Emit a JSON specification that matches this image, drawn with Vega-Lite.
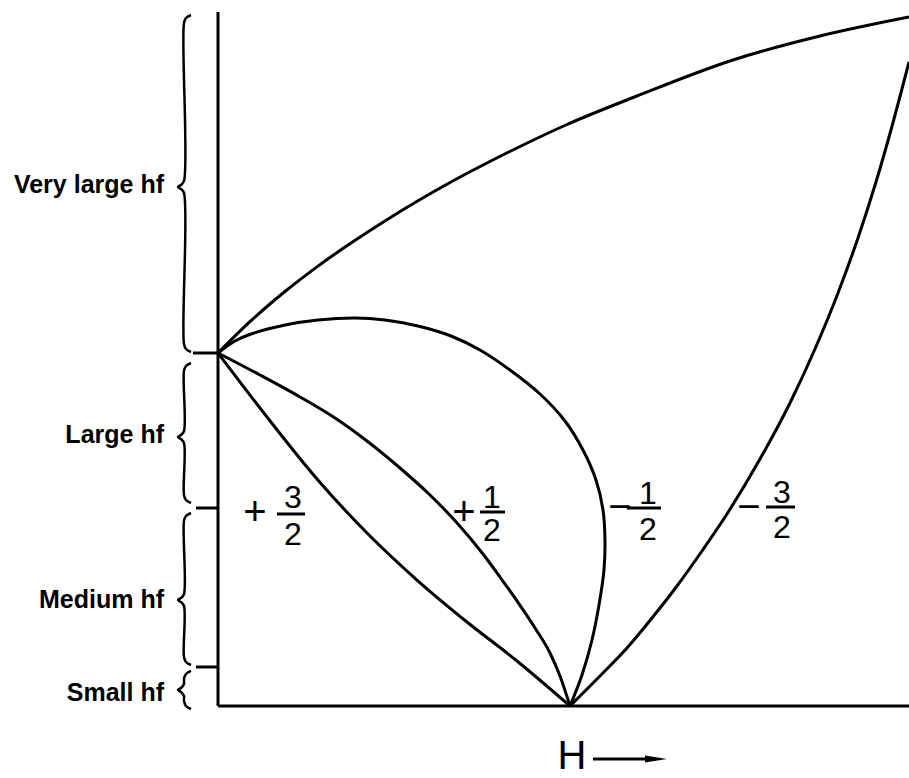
{
  "$schema": "https://vega.github.io/schema/vega-lite/v6.json",
  "width": 909,
  "height": 778,
  "autosize": {"type": "none"},
  "padding": 0,
  "background": "white",
  "config": {"view": {"stroke": null}},
  "datasets": {
    "levels": [
      {"curve": "top", "i": 0, "h": 0, "e": 100},
      {"curve": "top", "i": 1, "h": 9.38, "e": 109.15},
      {"curve": "top", "i": 2, "h": 19.03, "e": 117.42},
      {"curve": "top", "i": 3, "h": 28.41, "e": 124.62},
      {"curve": "top", "i": 4, "h": 37.78, "e": 131.16},
      {"curve": "top", "i": 5, "h": 47.44, "e": 137.42},
      {"curve": "top", "i": 6, "h": 56.82, "e": 143.12},
      {"curve": "top", "i": 7, "h": 66.19, "e": 148.44},
      {"curve": "top", "i": 8, "h": 75.85, "e": 153.54},
      {"curve": "top", "i": 9, "h": 85.23, "e": 158.22},
      {"curve": "top", "i": 10, "h": 99.15, "e": 164.73},
      {"curve": "top", "i": 11, "h": 119.03, "e": 172.8},
      {"curve": "top", "i": 12, "h": 146.31, "e": 183.0},
      {"curve": "top", "i": 13, "h": 171.02, "e": 189.8},
      {"curve": "top", "i": 14, "h": 196.31, "e": 195.18},

      {"curve": "+1/2", "i": 0, "h": 0, "e": 100},
      {"curve": "+1/2", "i": 1, "h": 11.93, "e": 93.77},
      {"curve": "+1/2", "i": 2, "h": 23.3, "e": 87.54},
      {"curve": "+1/2", "i": 3, "h": 33.24, "e": 81.59},
      {"curve": "+1/2", "i": 4, "h": 42.33, "e": 75.07},
      {"curve": "+1/2", "i": 5, "h": 51.7, "e": 67.42},
      {"curve": "+1/2", "i": 6, "h": 60.23, "e": 59.77},
      {"curve": "+1/2", "i": 7, "h": 68.18, "e": 51.56},
      {"curve": "+1/2", "i": 8, "h": 75.28, "e": 43.06},
      {"curve": "+1/2", "i": 9, "h": 80.11, "e": 36.54},
      {"curve": "+1/2", "i": 10, "h": 84.94, "e": 29.75},
      {"curve": "+1/2", "i": 11, "h": 90.06, "e": 22.1},
      {"curve": "+1/2", "i": 12, "h": 94.32, "e": 15.01},
      {"curve": "+1/2", "i": 13, "h": 97.16, "e": 8.5},
      {"curve": "+1/2", "i": 14, "h": 100, "e": 0},

      {"curve": "+3/2", "i": 0, "h": 0, "e": 100},
      {"curve": "+3/2", "i": 1, "h": 13.92, "e": 81.87},
      {"curve": "+3/2", "i": 2, "h": 28.13, "e": 64.31},
      {"curve": "+3/2", "i": 3, "h": 42.33, "e": 49.01},
      {"curve": "+3/2", "i": 4, "h": 56.53, "e": 35.69},
      {"curve": "+3/2", "i": 5, "h": 70.74, "e": 23.8},
      {"curve": "+3/2", "i": 6, "h": 84.94, "e": 12.75},
      {"curve": "+3/2", "i": 7, "h": 100, "e": 0},

      {"curve": "-3/2", "i": 0, "h": 100, "e": 0},
      {"curve": "-3/2", "i": 1, "h": 108.52, "e": 8.5},
      {"curve": "-3/2", "i": 2, "h": 116.19, "e": 16.43},
      {"curve": "-3/2", "i": 3, "h": 123.3, "e": 24.93},
      {"curve": "-3/2", "i": 4, "h": 130.4, "e": 33.99},
      {"curve": "-3/2", "i": 5, "h": 137.5, "e": 43.91},
      {"curve": "-3/2", "i": 6, "h": 144.6, "e": 54.39},
      {"curve": "-3/2", "i": 7, "h": 153.98, "e": 69.97},
      {"curve": "-3/2", "i": 8, "h": 162.5, "e": 85.84},
      {"curve": "-3/2", "i": 9, "h": 169.6, "e": 101.13},
      {"curve": "-3/2", "i": 10, "h": 176.14, "e": 117.0},
      {"curve": "-3/2", "i": 11, "h": 181.82, "e": 132.58},
      {"curve": "-3/2", "i": 12, "h": 186.93, "e": 148.44},
      {"curve": "-3/2", "i": 13, "h": 191.19, "e": 163.17},
      {"curve": "-3/2", "i": 14, "h": 196.31, "e": 182.44}
    ],
    "loop": [
      {"curve": "-1/2", "i": 0, "h": 0, "e": 100},
      {"curve": "-1/2", "i": 1, "h": 4.83, "e": 103.4},
      {"curve": "-1/2", "i": 2, "h": 9.38, "e": 105.38},
      {"curve": "-1/2", "i": 3, "h": 19.03, "e": 107.93},
      {"curve": "-1/2", "i": 4, "h": 28.41, "e": 109.35},
      {"curve": "-1/2", "i": 5, "h": 38.92, "e": 109.92},
      {"curve": "-1/2", "i": 6, "h": 47.44, "e": 109.35},
      {"curve": "-1/2", "i": 7, "h": 56.82, "e": 107.65},
      {"curve": "-1/2", "i": 8, "h": 66.19, "e": 104.82},
      {"curve": "-1/2", "i": 9, "h": 74.43, "e": 100.85},
      {"curve": "-1/2", "i": 10, "h": 82.95, "e": 95.18},
      {"curve": "-1/2", "i": 11, "h": 91.48, "e": 88.39},
      {"curve": "-1/2", "i": 12, "h": 98.58, "e": 80.74},
      {"curve": "-1/2", "i": 13, "h": 103.69, "e": 72.52},
      {"curve": "-1/2", "i": 14, "h": 107.39, "e": 64.02},
      {"curve": "-1/2", "i": 15, "h": 109.38, "e": 55.52},
      {"curve": "-1/2", "i": 16, "h": 109.94, "e": 47.03},
      {"curve": "-1/2", "i": 17, "h": 109.66, "e": 38.53},
      {"curve": "-1/2", "i": 18, "h": 108.24, "e": 28.61},
      {"curve": "-1/2", "i": 19, "h": 106.25, "e": 18.7},
      {"curve": "-1/2", "i": 20, "h": 103.41, "e": 8.78},
      {"curve": "-1/2", "i": 21, "h": 100, "e": 0}
    ],
    "rules": [
      {"part": "energy axis", "h": 0, "e": 0, "h2": 0, "e2": 196.6},
      {"part": "field axis", "h": 0, "e": 0, "h2": 196.31, "e2": 0},
      {"part": "zero-field level", "h": -7.1, "e": 100, "h2": 0, "e2": 100},
      {"part": "large/medium boundary", "h": -6.25, "e": 56.09, "h2": 0, "e2": 56.09},
      {"part": "medium/small boundary", "h": -6.25, "e": 11.05, "h2": 0, "e2": 11.05},
      {"part": "bar +3/2", "h": 16.76, "e": 54.39, "h2": 24.72, "e2": 54.39},
      {"part": "bar +1/2", "h": 74.43, "e": 54.96, "h2": 81.53, "e2": 54.96},
      {"part": "bar -1/2", "h": 116.19, "e": 56.09, "h2": 125.85, "e2": 56.09},
      {"part": "bar -3/2", "h": 155.68, "e": 56.37, "h2": 163.92, "e2": 56.37},
      {"part": "arrow shaft", "h": 106.53, "e": -15.01, "h2": 122.73, "e2": -15.01}
    ],
    "braces": [
      {"brace": "very large", "i": 0, "h": -7.67, "e": 195.75},
      {"brace": "very large", "i": 1, "h": -9.09, "e": 194.9},
      {"brace": "very large", "i": 2, "h": -9.66, "e": 193.48},
      {"brace": "very large", "i": 3, "h": -9.66, "e": 148.73},
      {"brace": "very large", "i": 4, "h": -10.51, "e": 147.59},
      {"brace": "very large", "i": 5, "h": -11.36, "e": 147.03},
      {"brace": "very large", "i": 6, "h": -10.51, "e": 146.46},
      {"brace": "very large", "i": 7, "h": -9.66, "e": 145.33},
      {"brace": "very large", "i": 8, "h": -9.66, "e": 102.55},
      {"brace": "very large", "i": 9, "h": -9.09, "e": 101.13},
      {"brace": "very large", "i": 10, "h": -7.67, "e": 100.28},

      {"brace": "large", "i": 0, "h": -7.67, "e": 97.17},
      {"brace": "large", "i": 1, "h": -9.09, "e": 96.32},
      {"brace": "large", "i": 2, "h": -9.66, "e": 94.9},
      {"brace": "large", "i": 3, "h": -9.66, "e": 77.9},
      {"brace": "large", "i": 4, "h": -10.51, "e": 76.77},
      {"brace": "large", "i": 5, "h": -11.36, "e": 76.2},
      {"brace": "large", "i": 6, "h": -10.51, "e": 75.64},
      {"brace": "large", "i": 7, "h": -9.66, "e": 74.5},
      {"brace": "large", "i": 8, "h": -9.66, "e": 59.77},
      {"brace": "large", "i": 9, "h": -9.09, "e": 58.36},
      {"brace": "large", "i": 10, "h": -7.67, "e": 57.51},

      {"brace": "medium", "i": 0, "h": -7.67, "e": 54.67},
      {"brace": "medium", "i": 1, "h": -9.09, "e": 53.82},
      {"brace": "medium", "i": 2, "h": -9.66, "e": 52.41},
      {"brace": "medium", "i": 3, "h": -9.66, "e": 31.73},
      {"brace": "medium", "i": 4, "h": -10.51, "e": 30.59},
      {"brace": "medium", "i": 5, "h": -11.36, "e": 30.03},
      {"brace": "medium", "i": 6, "h": -10.51, "e": 29.46},
      {"brace": "medium", "i": 7, "h": -9.66, "e": 28.33},
      {"brace": "medium", "i": 8, "h": -9.66, "e": 13.88},
      {"brace": "medium", "i": 9, "h": -9.09, "e": 12.46},
      {"brace": "medium", "i": 10, "h": -7.67, "e": 11.61},

      {"brace": "small", "i": 0, "h": -7.67, "e": 9.92},
      {"brace": "small", "i": 1, "h": -9.09, "e": 9.07},
      {"brace": "small", "i": 2, "h": -9.66, "e": 7.65},
      {"brace": "small", "i": 3, "h": -9.66, "e": 6.23},
      {"brace": "small", "i": 4, "h": -10.51, "e": 5.1},
      {"brace": "small", "i": 5, "h": -11.36, "e": 4.53},
      {"brace": "small", "i": 6, "h": -10.51, "e": 3.97},
      {"brace": "small", "i": 7, "h": -9.66, "e": 2.83},
      {"brace": "small", "i": 8, "h": -9.66, "e": 1.42},
      {"brace": "small", "i": 9, "h": -9.09, "e": 0},
      {"brace": "small", "i": 10, "h": -7.67, "e": -0.85}
    ],
    "labels": [
      {"kind": "regime", "txt": "Very large hf", "h": -15.34, "e": 145.33},
      {"kind": "regime", "txt": "Large hf", "h": -15.34, "e": 74.5},
      {"kind": "regime", "txt": "Medium hf", "h": -15.34, "e": 27.76},
      {"kind": "regime", "txt": "Small hf", "h": -15.34, "e": 1.42},

      {"kind": "sign", "txt": "+", "h": 10.51, "e": 54.67},
      {"kind": "sign", "txt": "+", "h": 69.89, "e": 54.67},
      {"kind": "sign", "txt": "−", "h": 114.2, "e": 56.09},
      {"kind": "sign", "txt": "−", "h": 150.85, "e": 56.09},

      {"kind": "digit", "txt": "3", "h": 21.31, "e": 56.09},
      {"kind": "digit", "txt": "2", "h": 21.31, "e": 45.61},
      {"kind": "digit", "txt": "1", "h": 77.84, "e": 56.09},
      {"kind": "digit", "txt": "2", "h": 77.84, "e": 46.74},
      {"kind": "digit", "txt": "1", "h": 122.16, "e": 57.22},
      {"kind": "digit", "txt": "2", "h": 122.16, "e": 47.03},
      {"kind": "digit", "txt": "3", "h": 160.23, "e": 57.51},
      {"kind": "digit", "txt": "2", "h": 160.23, "e": 47.59},

      {"kind": "field", "txt": "H", "h": 100.57, "e": -17.85}
    ],
    "arrowhead": [
      {"h": 124.43, "e": -15.01}
    ]
  },
  "encoding": {
    "x": {
      "field": "h",
      "type": "quantitative",
      "scale": {"domain": [-61.93, 196.31], "nice": false, "zero": false},
      "axis": null
    },
    "y": {
      "field": "e",
      "type": "quantitative",
      "scale": {"domain": [-20.4, 200.0], "nice": false, "zero": false},
      "axis": null
    }
  },
  "layer": [
    {
      "data": {"name": "rules"},
      "mark": {"type": "rule", "color": "black", "strokeWidth": 3, "strokeCap": "butt"},
      "encoding": {
        "x2": {"field": "h2"},
        "y2": {"field": "e2"}
      }
    },
    {
      "data": {"name": "levels"},
      "mark": {"type": "line", "interpolate": "monotone", "color": "black", "strokeWidth": 3},
      "encoding": {
        "detail": {"field": "curve", "type": "nominal"},
        "order": {"field": "i", "type": "quantitative"}
      }
    },
    {
      "data": {"name": "loop"},
      "mark": {"type": "line", "interpolate": "catmull-rom", "color": "black", "strokeWidth": 3},
      "encoding": {
        "detail": {"field": "curve", "type": "nominal"},
        "order": {"field": "i", "type": "quantitative"}
      }
    },
    {
      "data": {"name": "braces"},
      "mark": {"type": "line", "interpolate": "catmull-rom", "color": "black", "strokeWidth": 2.5},
      "encoding": {
        "detail": {"field": "brace", "type": "nominal"},
        "order": {"field": "i", "type": "quantitative"}
      }
    },
    {
      "data": {"name": "arrowhead"},
      "mark": {"type": "point", "shape": "M-1,-0.32L1,0L-1,0.32Z", "size": 484, "filled": true, "color": "black", "opacity": 1},
      "encoding": {}
    },
    {
      "data": {"name": "labels"},
      "transform": [{"filter": "datum.kind === 'regime'"}],
      "mark": {"type": "text", "align": "right", "baseline": "alphabetic", "font": "Liberation Sans", "fontWeight": "bold", "fontSize": 25, "color": "black"},
      "encoding": {"text": {"field": "txt"}}
    },
    {
      "data": {"name": "labels"},
      "transform": [{"filter": "datum.kind === 'sign'"}],
      "mark": {"type": "text", "align": "center", "baseline": "middle", "font": "Liberation Sans", "fontSize": 40, "color": "black"},
      "encoding": {"text": {"field": "txt"}}
    },
    {
      "data": {"name": "labels"},
      "transform": [{"filter": "datum.kind === 'digit'"}],
      "mark": {"type": "text", "align": "center", "baseline": "alphabetic", "font": "Liberation Sans", "fontSize": 32, "color": "black"},
      "encoding": {"text": {"field": "txt"}}
    },
    {
      "data": {"name": "labels"},
      "transform": [{"filter": "datum.kind === 'field'"}],
      "mark": {"type": "text", "align": "center", "baseline": "alphabetic", "font": "Liberation Sans", "fontSize": 40, "color": "black"},
      "encoding": {"text": {"field": "txt"}}
    }
  ]
}
